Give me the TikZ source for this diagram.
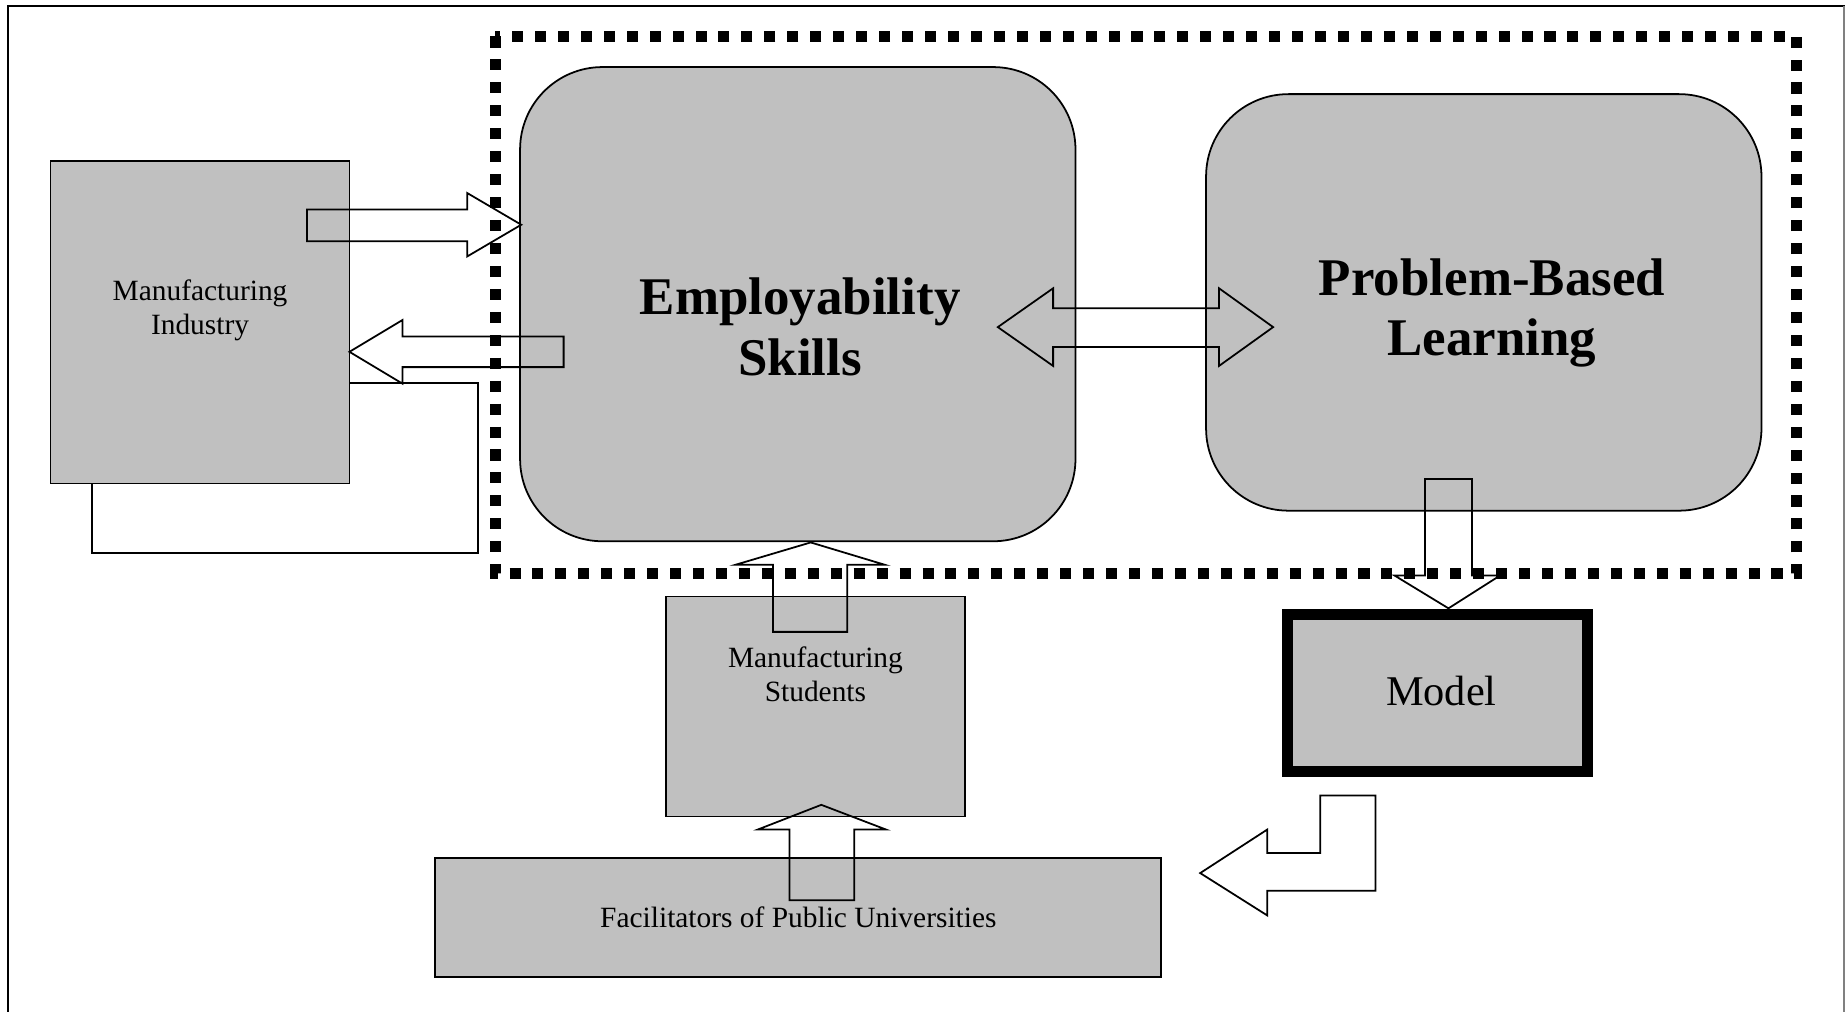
\documentclass[tikz,border=0pt]{standalone}
\usepackage{fontspec}
\setmainfont{Liberation Serif}
\definecolor{boxgrey}{RGB}{192,192,192}
\begin{document}
\begin{tikzpicture}[x=0.4pt,y=-0.4pt,
    greybox/.style={draw,fill=boxgrey,line width=0.6pt,inner sep=0pt},
    roundbox/.style={greybox,rounded corners=28pt},
    smalltext/.style={align=center,font=\fontsize{10}{11.6}\selectfont},
    bigtext/.style={align=center,font=\fontsize{18}{20.6}\selectfont\bfseries},
    blockarrow/.style={draw,line width=0.6pt,line join=miter}]
    \useasboundingbox (0,0) rectangle (1568,860);
    \draw[line width=0.7pt] (7,860) -- (7,5) -- (1568,5);
    \draw[gray,line width=0.6pt] (1567,5) -- (1567,860);
    \draw[line width=3.75pt,dash pattern=on 3.75pt off 4.05pt] (421,31) rectangle (1527,487);
    \node (B0_0) [greybox,minimum width=101.6pt,minimum height=109.6pt] at (170,274) {};
    \node (B0_1) [roundbox,minimum width=188.8pt,minimum height=161.2pt] at (678,258.5) {};
    \node (B0_2) [roundbox,minimum width=188.8pt,minimum height=141.6pt] at (1261,257) {};
    \node (B1_1) [greybox,minimum width=101.6pt,minimum height=74.8pt] at (693,600.5) {};
    \node (B1_2) [greybox,line width=3.75pt,minimum width=101.8pt,minimum height=53.1pt] at (1221.75,588.9) {};
    \node (B2_1) [greybox,smalltext,minimum width=246.8pt,minimum height=40.4pt] at (678.5,779.5)
      {Facilitators of Public Universities};
    \node (T0_0) [smalltext] at (170,264) {Manufacturing\\Industry};
    \node (T0_1) [bigtext] at (680,278) {Employability\\Skills};
    \node (T0_2) [bigtext] at (1268,266) {Problem-Based\\Learning};
    \node (T1_1) [smalltext] at (693,573) {Manufacturing\\Students};
    \node (T1_2) [font=\fontsize{14.4}{16}\selectfont] at (1225,587) {Model};
    % industry <-> employability
    \draw[blockarrow] (261,178) -- (397,178) -- (397,164) -- (443,191) -- (397,218) -- (397,205) -- (261,205) -- cycle;
    \draw[blockarrow] (479,286) -- (342,286) -- (342,272) -- (297,299) -- (342,326) -- (342,312) -- (479,312) -- cycle;
    \draw[line width=0.6pt] ([yshift=34.4pt]B0_0.south east) -| (406,470) -| ([xshift=14.4pt]B0_0.south west);
    % employability <-> pbl
    \draw[blockarrow] (848,278) -- (895,245) -- (895,262) -- (1036,262) -- (1036,245) -- (1082,278)
      -- (1036,311) -- (1036,295) -- (895,295) -- (895,311) -- cycle;
    % students, facilitators
    \draw[blockarrow] (657,537) -- (657,480) -- (625,480) -- (689,461) -- (752,480) -- (720,480) -- (720,537) -- cycle;
    \draw[blockarrow] (671,765) -- (671,705) -- (644,705) -- (698,684) -- (753,705) -- (726,705) -- (726,765) -- cycle;
    % pbl -> model -> back
    \draw[blockarrow] (1211,407) -- (1211,489) -- (1185,489) -- (1231,517) -- (1275,489) -- (1251,489) -- (1251,407) -- cycle;
    \draw[blockarrow] (1020,742) -- (1077,705) -- (1077,725) -- (1122,725) -- (1122,676) -- (1169,676)
      -- (1169,757) -- (1077,757) -- (1077,778) -- cycle;
\end{tikzpicture}
\end{document}
